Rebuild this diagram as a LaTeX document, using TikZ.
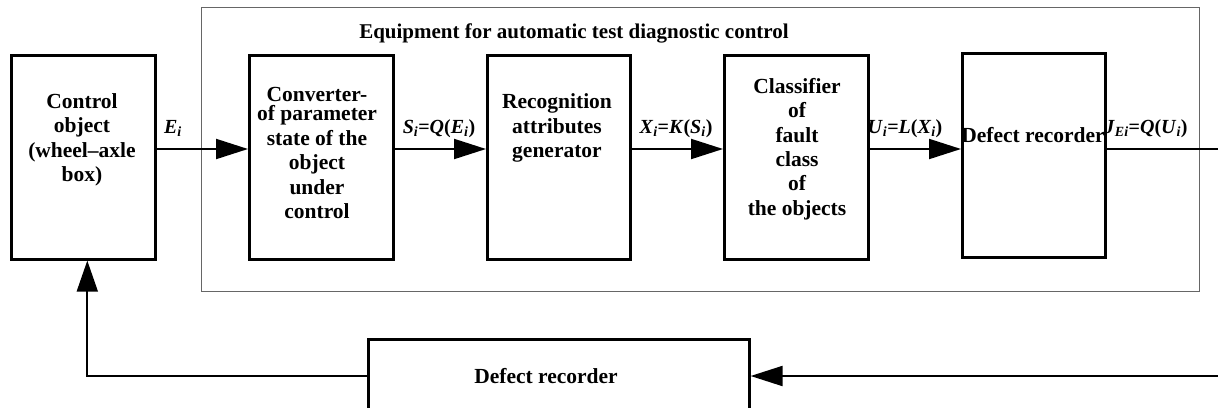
\documentclass[tikz,border=0pt]{standalone}
\usepackage{fontspec}
\setmainfont{Liberation Serif}
\usetikzlibrary{arrows.meta,calc}
\begin{document}
\begin{tikzpicture}[x=1pt,y=-1pt,
  blk/.style={draw=black,line width=2.6pt,anchor=north west,inner sep=0pt},
  frm/.style={draw=black!60,line width=1.3pt,anchor=north west,inner sep=0pt},
  txt/.style={align=center,font=\fontsize{21.5}{24.4}\selectfont\bfseries,inner sep=0pt},
  lbl/.style={anchor=base,font=\fontsize{20}{22}\selectfont\bfseries,inner sep=0pt},
  arr/.style={line width=2pt,-{Triangle[length=32pt,width=20pt]}},
  fbl/.style={line width=1.8pt}]
\useasboundingbox (0,0) rectangle (1218,407);
\clip (0,0) rectangle (1218,407);

% enclosing frame of the diagnostic equipment
\node[frm,minimum width=998pt,minimum height=284pt] (frame) at (201,7) {};
\node[lbl,font=\fontsize{21}{24}\selectfont\bfseries] (title) at (574,38) {Equipment for automatic test diagnostic control};

% blocks
\node[blk,minimum width=144pt,minimum height=204pt] (ctrl)   at (10,54)  {};
\node[blk,minimum width=144pt,minimum height=204pt] (conv)   at (248,54) {};
\node[blk,minimum width=143pt,minimum height=204pt] (recog)  at (486,54) {};
\node[blk,minimum width=144pt,minimum height=204pt] (class)  at (723,54) {};
\node[blk,minimum width=143pt,minimum height=204pt] (defect) at (961,52) {};
\node[blk,minimum width=381pt,minimum height=100pt] (fb)     at (367,338) {};

% block captions
\node[txt] (ctrlT)   at (82,140)   {Control\\object\\(wheel–axle\\box)};
\node[txt] (convT)   at (317,153)  {Converter-\\[-5pt]of parameter\\state of the\\object\\under\\control};
\node[txt] (recogT)  at (557,128)  {Recognition\\attributes\\generator};
\node[txt] (classT)  at (797,149)  {Classifier\\of\\fault\\class\\of\\the objects};
\node[txt] (defectT) at (1033,135) {Defect recorder};
\node[txt] (fbT)     at (546,376)  {Defect recorder};

% signal labels
\node[lbl] (e)  at (173,133)  {\textit{E}\textsubscript{\textit{i}}};
\node[lbl] (s)  at (439,133)  {\textit{S}\textsubscript{\textit{i}}=\textit{Q}(\textit{E}\textsubscript{\textit{i}})};
\node[lbl] (x)  at (676,133)  {\textit{X}\textsubscript{\textit{i}}=\textit{K}(\textit{S}\textsubscript{\textit{i}})};
\node[lbl] (u)  at (905,133)  {\textit{U}\textsubscript{\textit{i}}=\textit{L}(\textit{X}\textsubscript{\textit{i}})};
\node[lbl] (j)  at (1146,133) {\textit{J}\textsubscript{\textit{Ei}}=\textit{Q}(\textit{U}\textsubscript{\textit{i}})};

% forward signal path
\coordinate (out) at (1218,149);
\coordinate (ret) at (1218,376);
\draw[arr] (ctrl.east |- out) -- (conv.west |- out);
\draw[arr] (conv.east |- out) -- (recog.west |- out);
\draw[arr] (recog.east |- out) -- (class.west |- out);
\draw[arr] (class.east |- out) -- (defect.west |- out);
\draw[line width=2pt] (defect.east |- out) -- (out);

% feedback path
\draw[arr] (ret) -- (fb.east |- ret);
\draw[fbl,-{Triangle[length=31pt,width=21pt]}] (fb.west |- ret) -| ($(ctrl.south)+(4,0)$);
\end{tikzpicture}
\end{document}
